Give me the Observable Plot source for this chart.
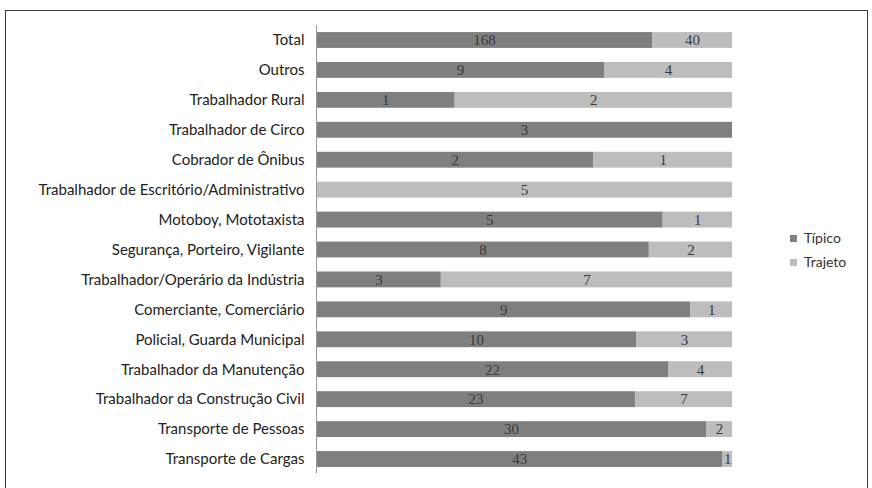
<!DOCTYPE html>
<html>
<head>
<meta charset="utf-8">
<script src="https://cdn.jsdelivr.net/npm/d3@7"></script>
<script src="https://cdn.jsdelivr.net/npm/@observablehq/plot@0.6"></script>
<style>
  html, body { margin: 0; padding: 0; background: #fff; width: 872px; height: 488px; overflow: hidden; }
  #frame { position: absolute; left: 5px; top: 10px; width: 863px; height: 490px; border: 1px solid #3a3a3a; box-sizing: border-box; }
  #chart { position: absolute; left: 0; top: 0; }
  #legend { position: absolute; left: 790px; top: 226px; font-family: Lato, sans-serif; font-size: 14px; color: #333; }
  #legend div { height: 24px; line-height: 18px; display: flex; align-items: center; }
  #legend span.sw { display: inline-block; width: 7px; height: 7px; margin-right: 7px; }
</style>
</head>
<body>
<div id="frame"></div>
<div id="chart"></div>
<div id="legend"></div>
<script>
const categories = [
  "Total", "Outros", "Trabalhador Rural", "Trabalhador de Circo", "Cobrador de Ônibus",
  "Trabalhador de Escritório/Administrativo", "Motoboy, Mototaxista",
  "Segurança, Porteiro, Vigilante", "Trabalhador/Operário da Indústria",
  "Comerciante, Comerciário", "Policial, Guarda Municipal", "Trabalhador da Manutenção",
  "Trabalhador da Construção Civil", "Transporte de Pessoas", "Transporte de Cargas"
];
const tipico  = [168, 9, 1, 3, 2, 0, 5, 8, 3, 9, 10, 22, 23, 30, 43];
const trajeto = [40, 4, 2, 0, 1, 5, 1, 2, 7, 1, 3, 4, 7, 2, 1];
const seriesNames = ["Típico", "Trajeto"];
const seriesColors = ["#7f7f7f", "#bdbdbd"];

const rows = [];
categories.forEach((c, i) => {
  if (tipico[i] > 0) rows.push({cat: c, type: seriesNames[0], value: tipico[i]});
  if (trajeto[i] > 0) rows.push({cat: c, type: seriesNames[1], value: trajeto[i]});
});

const plot = Plot.plot({
  width: 872,
  height: 488,
  marginLeft: 316,
  marginRight: 140,
  marginTop: 18,
  marginBottom: 7,
  style: {fontFamily: "Lato, sans-serif", fontSize: "15px", color: "#222", background: "transparent"},
  x: {axis: null, domain: [0, 1]},
  y: {domain: categories, padding: 0.47, round: false, label: null, tickSize: 0, tickPadding: 12},
  color: {domain: seriesNames, range: seriesColors},
  marks: [
    Plot.barX(rows, Plot.stackX({x: "value", y: "cat", z: "type", fill: "type", offset: "normalize", order: null})),
    Plot.text(rows, Plot.stackX({x: "value", y: "cat", z: "type", text: "value", offset: "normalize", order: null,
      fill: "#3a3a3a", fontFamily: "'Liberation Serif', serif", fontSize: 15})),
    Plot.ruleX([0], {stroke: "#999", insetTop: 7, insetBottom: 8})
  ]
});
document.getElementById("chart").appendChild(plot);

const legend = document.getElementById("legend");
seriesNames.forEach((n, i) => {
  const d = document.createElement("div");
  const sw = document.createElement("span");
  sw.className = "sw";
  sw.style.background = seriesColors[i];
  d.appendChild(sw);
  d.appendChild(document.createTextNode(n));
  legend.appendChild(d);
});
</script>
</body>
</html>
